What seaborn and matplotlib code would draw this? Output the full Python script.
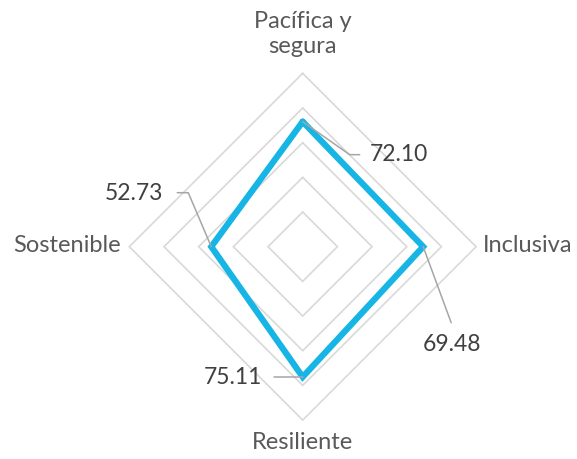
import numpy as np
import pandas as pd
import seaborn as sns
import matplotlib.pyplot as plt

# Datos del gráfico
categorias = ['Pacífica y\nsegura', 'Inclusiva', 'Resiliente', 'Sostenible']
valores = [72.10, 69.48, 75.11, 52.73]
anillos = [20, 40, 60, 80, 100]

sns.set_style('white')
plt.rcParams['font.family'] = ['Lato', 'DejaVu Sans']

W, H = 577, 459
fig = plt.figure(figsize=(W / 100, H / 100), dpi=100)
ax = fig.add_axes([0, 0, 1, 1])

# escala: 100 unidades = 173.4 px, centro en (302.7, 246.7) px
esc = 1.734
cx, cy = 302.7, 246.7
ax.set_xlim(-cx / esc, (W - cx) / esc)
ax.set_ylim(-(H - cy) / esc, cy / esc)
ax.set_aspect('equal')
ax.axis('off')

ang = np.deg2rad([0, 90, 180, 270])


def px(x, y):
    # posición en píxeles -> coordenadas de datos
    return (x - cx) / esc, (cy - y) / esc


# rejilla en rombos
for r in anillos:
    rr = [r] * 4 + [r]
    aa = list(ang) + [ang[0]]
    g = pd.DataFrame({'x': np.array(rr) * np.sin(aa), 'y': np.array(rr) * np.cos(aa)})
    sns.lineplot(data=g, x='x', y='y', sort=False, estimator=None,
                 color='#d9d9d9', linewidth=1.2, solid_joinstyle='miter', ax=ax)

# serie
vv = valores + [valores[0]]
aa = list(ang) + [ang[0]]
df = pd.DataFrame({'x': np.array(vv) * np.sin(aa), 'y': np.array(vv) * np.cos(aa)})
sns.lineplot(data=df, x='x', y='y', sort=False, estimator=None,
             color='#17b5e5', linewidth=4.5, solid_joinstyle='miter', ax=ax)

# etiquetas de categoría
txt_cat = dict(color='#595959', fontsize=17)
ax.text(*px(302.7, 34), categorias[0], ha='center', va='center', linespacing=1.2, **txt_cat)
ax.text(*px(483, 246), categorias[1], ha='left', va='center', **txt_cat)
ax.text(*px(302, 443), categorias[2], ha='center', va='center', **txt_cat)
ax.text(*px(121, 246), categorias[3], ha='right', va='center', **txt_cat)

# etiquetas de valor con líneas guía (codo en píxeles relativos al punto)
guias = [
    [(47, 33), (57, 33)],
    [(28, 76)],
    [(-29, 0)],
    [(-23, -54), (-34, -54)],
]
pos_txt = [((370, 155), 'left'), ((452, 345), 'center'), ((262, 378), 'right'), ((163, 194), 'right')]
for v, a, g, (p, ha) in zip(valores, ang, guias, pos_txt):
    x0, y0 = v * np.sin(a), v * np.cos(a)
    xs = [x0] + [x0 + dx / esc for dx, dy in g]
    ys = [y0] + [y0 - dy / esc for dx, dy in g]
    ax.plot(xs, ys, color='#a6a6a6', linewidth=1.1)
    ax.text(*px(*p), f'{v:.2f}', ha=ha, va='center', color='#404040', fontsize=16.5)

fig.savefig('out.png', dpi=100)
